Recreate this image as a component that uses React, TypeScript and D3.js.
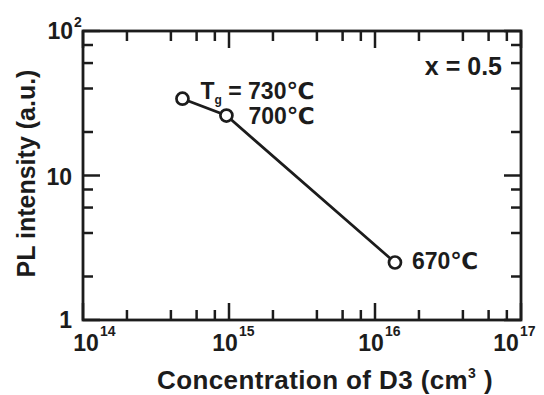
import React from 'react';
import * as d3 from 'd3';

// data
const concentration = [4.8e14, 9.6e14, 1.37e16]; // cm^-3
const intensity = [34, 26, 2.5]; // a.u.
const growthTemps = ['730', '700', '670'];
const xDecades = [14, 15, 16, 17];
const yMajorTicks = [1, 10, 100];
const annotation = 'x = 0.5';

const W = 544;
const H = 395;
const margin = { top: 31, right: 23, bottom: 75, left: 83 };
const FONT = '"Liberation Sans", Arial, "DejaVu Sans", sans-serif';
const INK = '#1c1c1c';

const App = () => {
  const x = d3.scaleLog().domain([1e14, 1e17]).range([margin.left, W - margin.right]);
  const y = d3.scaleLog().domain([1, 100]).range([H - margin.bottom, margin.top]);
  const x0 = x.range()[0], x1 = x.range()[1];
  const y0 = y.range()[0], y1 = y.range()[1];

  // only 2,4,6,8 minor ticks plus the decades
  const keep = (v: number) => {
    const m = Math.round(v / Math.pow(10, Math.floor(Math.log10(v) + 1e-9)));
    return [1, 2, 4, 6, 8].includes(m);
  };
  const isMajor = (v: number) => Math.abs(Math.log10(v) - Math.round(Math.log10(v))) < 1e-6;
  const xTicks = x.ticks().filter(keep);
  const yTicks = y.ticks().filter(keep);
  const majorLen = 17;
  const minorLen = 10;

  const line = d3.line<number>()
    .x((d, i) => x(concentration[i]))
    .y(d => y(d));

  // label offsets relative to each point
  const labelDx = [18, 22, 17];
  const labelDy = [0, 8, 7];

  return (
    <svg width={W} height={H} style={{ position: 'absolute', left: 0, top: 0, background: '#fff' }}
      fontFamily={FONT} fontWeight="bold">
      {/* frame */}
      <rect x={x0} y={y1} width={x1 - x0} height={y0 - y1} fill="none" stroke={INK} strokeWidth={2.8} />

      {/* x ticks, bottom and top, inward */}
      {xTicks.map((t, i) => {
        const len = isMajor(t) ? majorLen : minorLen;
        return (
          <g key={'xt' + i} stroke={INK} strokeWidth={2.5}>
            <line x1={x(t)} x2={x(t)} y1={y0} y2={y0 - len} />
            <line x1={x(t)} x2={x(t)} y1={y1} y2={y1 + len} />
          </g>
        );
      })}
      {/* y ticks, left and right, inward */}
      {yTicks.map((t, i) => {
        const len = isMajor(t) ? majorLen : minorLen;
        return (
          <g key={'yt' + i} stroke={INK} strokeWidth={2.5}>
            <line x1={x0} x2={x0 + len} y1={y(t)} y2={y(t)} />
            <line x1={x1} x2={x1 - len} y1={y(t)} y2={y(t)} />
          </g>
        );
      })}

      {/* x tick labels */}
      {xDecades.map(d => {
        const cx = Math.max(86, Math.min(x(Math.pow(10, d)) - 4, W - 38));
        return (
          <g key={'xl' + d} fill={INK}>
            <text x={cx} y={y0 + 31} fontSize={23} textAnchor="middle">10</text>
            <text x={cx + 14} y={y0 + 16} fontSize={14} textAnchor="start">{d}</text>
          </g>
        );
      })}

      {/* y tick labels */}
      {yMajorTicks.map(v => {
        const exp = Math.round(Math.log10(v));
        if (exp === 2) {
          return (
            <g key={'yl' + v} fill={INK}>
              <text x={x0 - 10} y={y(v) + 8} fontSize={23} textAnchor="end">10</text>
              <text x={x0 - 9} y={y(v) - 4} fontSize={14} textAnchor="start">2</text>
            </g>
          );
        }
        return (
          <text key={'yl' + v} x={x0 - 11} y={y(v) + (exp === 0 ? 8 : 9)} fontSize={23}
            textAnchor="end" fill={INK}>{String(v)}</text>
        );
      })}

      {/* axis titles */}
      <text x={325} y={389} fontSize={26} letterSpacing={0.4} textAnchor="middle" fill={INK}>
        Concentration of D3 (cm<tspan fontSize={14} dy={-11}>3</tspan><tspan dy={11}> )</tspan>
      </text>
      <text transform={`translate(35,${(y0 + y1) / 2 - 2}) rotate(-90)`} fontSize={25}
        textAnchor="middle" fill={INK}>PL intensity (a.u.)</text>

      {/* data line and markers */}
      <path d={line(intensity) || ''} fill="none" stroke={INK} strokeWidth={2.7} />
      {intensity.map((v, i) => (
        <circle key={'pt' + i} cx={x(concentration[i])} cy={y(v)} r={6} fill="#fff"
          stroke={INK} strokeWidth={2.7} />
      ))}

      {/* temperature labels */}
      {intensity.map((v, i) => (
        <text key={'tl' + i} x={x(concentration[i]) + labelDx[i]} y={y(v) + labelDy[i]}
          fontSize={23} fill={INK}>
          {i === 0 ? (
            <>T<tspan fontSize={12} dy={5}>g</tspan><tspan dy={-5}> = </tspan></>
          ) : null}
          {growthTemps[i]}℃
        </text>
      ))}

      {/* composition annotation */}
      <text x={x1 - 19} y={75} fontSize={25} textAnchor="end" fill={INK}>{annotation}</text>
    </svg>
  );
};

export default App;
